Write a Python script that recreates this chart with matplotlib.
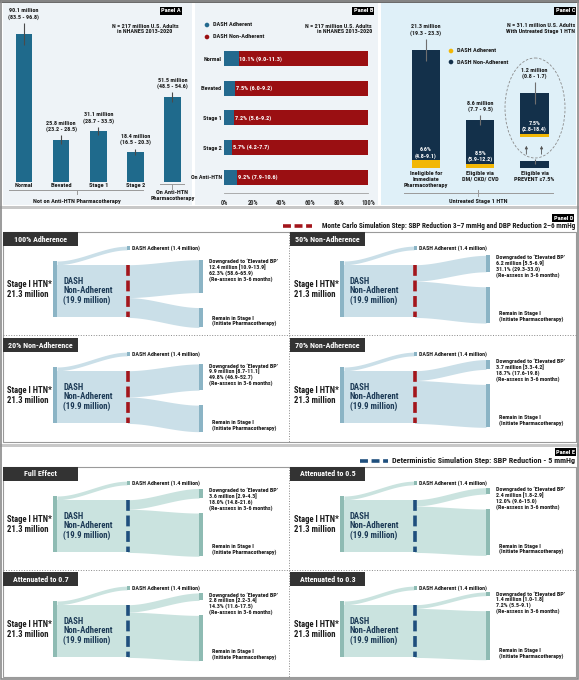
from __future__ import annotations

import matplotlib

matplotlib.use("Agg")
import matplotlib.pyplot as plt
import numpy as np
from matplotlib import font_manager
from matplotlib.patches import Ellipse, Rectangle

W, H = 579, 680

_installed = {f.name for f in font_manager.fontManager.ttflist}
FONT = next(
    (n for n in ["Liberation Sans Narrow", "Roboto Condensed", "DejaVu Sans Condensed", "Liberation Sans"]
     if n in _installed),
    "DejaVu Sans",
)
plt.rcParams["font.family"] = [FONT, "DejaVu Sans"]
plt.rcParams["font.weight"] = "bold"

# ---- Panel A: population by BP category (millions)
A_CATS = ["Normal", "Elevated", "Stage 1", "Stage 2", "On Anti-HTN\nPharmacotherapy"]
A_VALS = [90.1, 25.8, 31.1, 18.4, 51.5]
A_LO = [83.5, 23.2, 28.7, 16.5, 48.5]
A_HI = [96.8, 28.5, 33.5, 20.3, 54.6]

# ---- Panel B: DASH adherence share (%)
B_CATS = ["Normal", "Elevated", "Stage 1", "Stage 2", "On Anti-HTN"]
B_PCT = [10.1, 7.5, 7.2, 5.7, 9.2]
B_LO = [9.0, 6.0, 5.6, 4.2, 7.9]
B_HI = [11.3, 9.2, 9.2, 7.7, 10.6]

# ---- Panel C: untreated stage 1 HTN
C_CATS = ["Ineligible for\nImmediate\nPharmacotherapy", "Eligible via\nDM/ CKD/ CVD", "Eligible via\nPREVENT \u22657.5%"]
C_VALS = [21.3, 8.6, 1.2]
C_LO = [19.3, 7.7, 0.8]
C_HI = [23.3, 9.5, 1.7]
C_PCT = [6.6, 8.5, 7.5]
C_PCT_LO = [4.8, 5.9, 2.8]
C_PCT_HI = [9.1, 12.2, 18.4]

# ---- Panels D / E: sankey flows (millions)
STAGE1_TOTAL = 21.3
ADHERENT = 1.4
NON_ADHERENT = 19.9

D_TITLES = ["100% Adherence", "50% Non-Adherence", "20% Non-Adherence", "70% Non-Adherence"]
D_DOWN = [12.4, 6.2, 9.9, 3.7]
D_DOWN_CI = ["10.9-13.9", "5.5-6.9", "8.7-11.1", "3.3-4.2"]
D_PCT = ["62.3% (58.6-65.9)", "31.1% (29.3-33.0)", "49.8% (46.9-52.7)", "18.7% (17.6-19.8)"]

E_TITLES = ["Full Effect", "Attenuated to 0.5", "Attenuated to 0.7", "Attenuated to 0.3"]
E_DOWN = [3.6, 2.4, 2.8, 1.4]
E_DOWN_CI = ["2.9-4.3", "1.8-2.9", "2.2-3.4", "1.0-1.8"]
E_PCT = ["18.0% (14.8-21.6)", "12.0% (9.6-15.0)", "14.3% (11.6-17.5)", "7.2% (5.5-9.1)"]

# colours
PANEL_BG = "#eef3f7"
PANEL_C_BG = "#dff0f8"
A_BLUE = "#1f6a8c"
B_BLUE = "#23698e"
B_RED = "#9a0f12"
C_NAVY = "#13304a"
C_YELLOW = "#f2b705"
TXT = "#1a1a1a"
HEADER_C = "#333333"
PX_PER_M = 2.65
DASH = (0, (3.0, 1.3))

fig = plt.figure(figsize=(W / 100, H / 100), dpi=100)


def px_axes(x0, y0, x1, y1):
    return fig.add_axes([x0 / W, 1 - y1 / H, (x1 - x0) / W, (y1 - y0) / H])


bg = px_axes(0, 0, W, H)
bg.set_xlim(0, W)
bg.set_ylim(H, 0)
bg.axis("off")


def panel_tag(x_right, y, label):
    bg.text(x_right, y, label, ha="right", va="center", fontsize=4.6, color="white", zorder=5,
            bbox=dict(boxstyle="square,pad=0.18", fc="black", ec="none"))


# frames and backgrounds
bg.add_patch(Rectangle((3, 3), 189, 202, color=PANEL_BG, lw=0))
bg.add_patch(Rectangle((195, 3), 183, 202, color=PANEL_BG, lw=0))
bg.add_patch(Rectangle((381, 3), 195, 202, color=PANEL_C_BG, lw=0))
bg.add_patch(Rectangle((0, 0), W, 3, color="#6b6b6b", lw=0))
bg.add_patch(Rectangle((0, 206), W, 3, color="#c8c8c8", lw=0))
bg.add_patch(Rectangle((0, 444), W, 3, color="#c8c8c8", lw=0))
bg.add_patch(Rectangle((0.6, 0.6), W - 1.2, H - 1.2, fill=False, ec="#8a8a8a", lw=1.2))
for top in (232, 467):
    bg.add_patch(Rectangle((3, top), 573, 210, fill=False, ec="#9a9a9a", lw=0.8))
    bg.plot([289, 289], [top, top + 210], ls=":", color="#888888", lw=0.7)
    bg.plot([3, 576], [top + 103, top + 103], ls=":", color="#888888", lw=0.7)

# ---------------- Panel A
axA = px_axes(8, 15, 190, 182)
xa = np.arange(len(A_VALS))
axA.bar(xa, A_VALS, width=0.45, color=A_BLUE)
axA.errorbar(xa, A_VALS, yerr=[np.subtract(A_VALS, A_LO), np.subtract(A_HI, A_VALS)],
             fmt="none", ecolor="#4a4a4a", elinewidth=0.8, capsize=0)
axA.set_xlim((8 - 24) / 37.1, (190 - 24) / 37.1)
axA.set_ylim(0, 167 / 1.643)
axA.axis("off")
for i, (v, lo, hi) in enumerate(zip(A_VALS, A_LO, A_HI)):
    axA.text(i, hi + 2.0, f"{v} million\n({lo} - {hi})", ha="center", va="bottom",
             fontsize=4.4, color=TXT, linespacing=1.15)
for i, cat in enumerate(A_CATS[:4]):
    axA.text(i, -1.9, cat, ha="center", va="center", fontsize=4.5, color=TXT, clip_on=False)
axA.text(4, -4.9, A_CATS[4], ha="center", va="top", fontsize=4.5, color=TXT, clip_on=False,
         linespacing=1.15)
bg.plot([9, 143], [189.5, 189.5], color="#9a9a9a", lw=0.7)
bg.plot([77, 77], [189.5, 193.5], color="#9a9a9a", lw=0.7)
bg.text(77, 201, "Not on Anti-HTN Pharmacotherapy", ha="center", va="center", fontsize=4.5, color=TXT)
bg.plot([160, 184], [183.5, 183.5], color="#9a9a9a", lw=0.7)
bg.plot([172, 172], [183.5, 188.5], color="#9a9a9a", lw=0.7)
panel_tag(181, 11, "Panel A")
bg.text(145, 29, "N = 217 million U.S. Adults\nin NHANES 2013-2020", ha="center", va="center",
        fontsize=4.4, color=TXT, linespacing=1.2)

# ---------------- Panel B
axB = px_axes(224, 45, 368, 193)
yb = np.arange(len(B_PCT))
axB.barh(yb, B_PCT, height=0.51, color=B_BLUE)
axB.barh(yb, 100 - np.array(B_PCT), left=B_PCT, height=0.51, color=B_RED)
axB.set_xlim(0, 100)
axB.set_ylim(4.54, -0.47)
axB.set_facecolor("none")
for s in ("top", "right", "left"):
    axB.spines[s].set_visible(False)
axB.spines["bottom"].set_color("#a0a0a0")
axB.spines["bottom"].set_linewidth(0.6)
axB.set_xticks(np.arange(0, 101, 20))
axB.set_xticklabels([f"{t}%" for t in range(0, 101, 20)], fontsize=4.7, color="#333333")
axB.set_yticks(yb)
axB.set_yticklabels(B_CATS, fontsize=4.4, color=TXT)
axB.tick_params(length=0, pad=4)
axB.tick_params(axis="y", pad=1.5)
for i, (p, lo, hi) in enumerate(zip(B_PCT, B_LO, B_HI)):
    axB.text(p + 0.6, i, f"{p}% ({lo}-{hi})", ha="left", va="center", fontsize=4.5, color="white")
bg.scatter([207, 207], [25, 37], s=11, color=[B_BLUE, B_RED], lw=0, zorder=4)
bg.text(213, 25, "DASH Adherent", va="center", fontsize=4.5, color=TXT)
bg.text(213, 37, "DASH Non-Adherent", va="center", fontsize=4.5, color=TXT)
bg.text(372, 29, "N = 217 million U.S. Adults\nin NHANES 2013-2020", ha="right", va="center",
        fontsize=4.4, color=TXT, linespacing=1.2)
panel_tag(373, 11, "Panel B")

# ---------------- Panel C
C_PX = 5.54
ZOOM = 6.6
ZOOM_BASE = (168 - 137) / C_PX
axC = px_axes(400, 20, 560, 168)
xc = np.arange(len(C_VALS))
yellow = np.array(C_VALS) * np.array(C_PCT) / 100
axC.bar(xc, yellow, width=0.52, color=C_YELLOW)
axC.bar(xc, np.array(C_VALS) - yellow, bottom=yellow, width=0.52, color=C_NAVY)
axC.errorbar(xc, C_VALS, yerr=[np.subtract(C_VALS, C_LO), np.subtract(C_HI, C_VALS)],
             fmt="none", ecolor="#6f6f6f", elinewidth=0.8, capsize=0)
# magnified PREVENT bar
zv = C_VALS[2] * ZOOM
zy = yellow[2] * ZOOM
axC.bar(2, zy, bottom=ZOOM_BASE, width=0.52, color=C_YELLOW)
axC.bar(2, zv - zy, bottom=ZOOM_BASE + zy, width=0.52, color=C_NAVY)
ztop = ZOOM_BASE + zv
axC.errorbar([2], [ztop], yerr=[[(C_VALS[2] - C_LO[2]) * ZOOM * 0.75], [(C_HI[2] - C_VALS[2]) * ZOOM * 0.6]],
             fmt="none", ecolor="#6f6f6f", elinewidth=0.8, capsize=0)
axC.set_xlim((400 - 426) / 54.25, (560 - 426) / 54.25)
axC.set_ylim(0, 148 / C_PX)
axC.axis("off")
tops = [C_HI[0], C_HI[1], ztop + (C_HI[2] - C_VALS[2]) * ZOOM * 0.6]
for i in range(3):
    axC.text(i, tops[i] + 0.6, f"{C_VALS[i]} million\n({C_LO[i]} - {C_HI[i]})", ha="center", va="bottom",
             fontsize=4.4, color=TXT, linespacing=1.15)
ybase = [yellow[0], yellow[1], ZOOM_BASE + zy]
for i in range(3):
    axC.text(i, ybase[i] + 0.3, f"{C_PCT[i]}%\n({C_PCT_LO[i]}-{C_PCT_HI[i]})", ha="center", va="bottom",
             fontsize=4.4, color="white", linespacing=1.15)
    axC.text(i, -0.6, C_CATS[i], ha="center", va="top", fontsize=4.5, color=TXT, clip_on=False,
             linespacing=1.15)
for dx in (-0.15, 0.13):
    axC.annotate("", xy=(2 + dx, (168 - 143) / C_PX), xytext=(2 + dx, (168 - 157) / C_PX),
                 arrowprops=dict(arrowstyle="-|>", color="#555555", lw=0.6, mutation_scale=4))
bg.add_patch(Ellipse((535, 108), 60, 100, fill=False, ec="#8a8a8a", lw=0.6, ls=(0, (3, 2))))
bg.plot([404, 553], [193, 193], color="#9a9a9a", lw=0.7)
bg.plot([478, 478], [190, 196], color="#9a9a9a", lw=0.7)
bg.text(478, 201, "Untreated Stage 1 HTN", ha="center", va="center", fontsize=4.5, color=TXT)
bg.scatter([451, 451], [51, 62], s=11, color=[C_YELLOW, C_NAVY], lw=0, zorder=4)
bg.text(457, 51, "DASH Adherent", va="center", fontsize=4.5, color=TXT)
bg.text(457, 62, "DASH Non-Adherent", va="center", fontsize=4.5, color=TXT)
bg.text(575, 28.5, "N = 31.1 million U.S. Adults\nWith Untreated Stage 1 HTN", ha="right", va="center",
        fontsize=4.4, color=TXT, linespacing=1.2)
panel_tag(575, 11, "Panel C")


# ---------------- Panels D / E
def band(ax, xa0, xb0, ya0, ya1, yb0, yb1, color):
    t = np.linspace(0, 1, 80)
    s = 3 * t ** 2 - 2 * t ** 3
    xs = xa0 + (xb0 - xa0) * t
    ax.fill_between(xs, ya0 + (yb0 - ya0) * s, ya1 + (yb1 - ya1) * s, color=color, lw=0, zorder=1)


def draw_sankey(x0, y0, title, down, ci, pct, node_c, flow_c, dash_c):
    bg.add_patch(Rectangle((x0, y0), 75, 14, color=HEADER_C, lw=0, zorder=3))
    bg.text(x0 + 37.5, y0 + 7, title, color="white", fontsize=5.8, ha="center", va="center", zorder=4)

    ax = px_axes(x0, y0, x0 + 285, y0 + 105)
    ax.set_xlim(0, 285)
    ax.set_ylim((105 - 29) / PX_PER_M, -29 / PX_PER_M)
    ax.axis("off")

    remain = NON_ADHERENT - down
    adh_y = -13 / PX_PER_M
    top0 = (19 + 0.7 * down - 29) / PX_PER_M
    bot0 = top0 + down + 15 / PX_PER_M

    band(ax, 54, 124, 0, ADHERENT, adh_y - ADHERENT / 2, adh_y + ADHERENT / 2, flow_c)
    band(ax, 54, 124.5, ADHERENT, STAGE1_TOTAL, ADHERENT, STAGE1_TOTAL, flow_c)
    band(ax, 124.5, 196, ADHERENT, ADHERENT + down, top0, top0 + down, flow_c)
    band(ax, 124.5, 196, ADHERENT + down, STAGE1_TOTAL, bot0, bot0 + remain, flow_c)

    ax.add_patch(Rectangle((50, 0), 4, STAGE1_TOTAL, color=node_c, lw=0, zorder=2))
    ax.add_patch(Rectangle((124, adh_y - ADHERENT / 2), 3, ADHERENT, color=node_c, lw=0, zorder=2))
    ax.add_patch(Rectangle((196, top0), 4, down, color=node_c, lw=0, zorder=2))
    ax.add_patch(Rectangle((196, bot0), 4, remain, color=node_c, lw=0, zorder=2))
    ax.plot([124.5, 124.5], [ADHERENT, STAGE1_TOTAL], color=dash_c, lw=2.6, ls=DASH, zorder=3)

    ax.text(4, STAGE1_TOTAL / 2, "Stage I HTN*\n21.3 million", ha="left", va="center", fontsize=6.2,
            color=TXT, linespacing=1.1)
    ax.text(60, (ADHERENT + STAGE1_TOTAL) / 2, f"DASH\nNon-Adherent\n({NON_ADHERENT} million)",
            ha="left", va="center", fontsize=6.3, color="#1c3a56", linespacing=1.1, zorder=4)
    ax.text(129, adh_y, f"DASH Adherent ({ADHERENT} million)", ha="left", va="center", fontsize=4.3,
            color=TXT)
    ax.text(206, top0 - 0.3, f"Downgraded to \u2018Elevated BP\u2019\n{down} million [{ci}]\n{pct}\n"
            "(Re-assess in 3-6 months)", ha="left", va="top", fontsize=4.3, color=TXT, linespacing=1.05)
    ax.text(209, bot0 + remain - 0.4, "Remain in Stage I\n(Initiate Pharmacotherapy)", ha="left",
            va="bottom", fontsize=4.3, color=TXT, linespacing=1.05)


ORIGINS_D = [(3, 232), (290, 232), (3, 338), (290, 338)]
ORIGINS_E = [(3, 467), (290, 467), (3, 572), (290, 572)]
for (x0, y0), t, d, ci, p in zip(ORIGINS_D, D_TITLES, D_DOWN, D_DOWN_CI, D_PCT):
    draw_sankey(x0, y0, t, d, ci, p, "#8bb4c5", "#cadfe8", "#a3161c")
for (x0, y0), t, d, ci, p in zip(ORIGINS_E, E_TITLES, E_DOWN, E_DOWN_CI, E_PCT):
    draw_sankey(x0, y0, t, d, ci, p, "#8ebbb3", "#cae3df", "#1f4f7d")

# legends
panel_tag(573, 218, "Panel D")
bg.plot([283, 312], [226, 226], color="#a3161c", lw=2.6, ls=(0, (2.2, 1.0)))
bg.text(575, 226, "Monte Carlo Simulation Step: SBP Reduction 3\u20137 mmHg and DBP Reduction 2\u20136 mmHg",
        ha="right", va="center", fontsize=5.25, color=TXT)
panel_tag(575, 452, "Panel E")
bg.plot([360, 388], [461, 461], color="#1f4f7d", lw=2.6, ls=(0, (2.2, 1.0)))
bg.text(575, 461, "Deterministic Simulation Step: SBP Reduction - 5 mmHg", ha="right", va="center",
        fontsize=5.9, color=TXT)

fig.savefig("out.png", dpi=100)
